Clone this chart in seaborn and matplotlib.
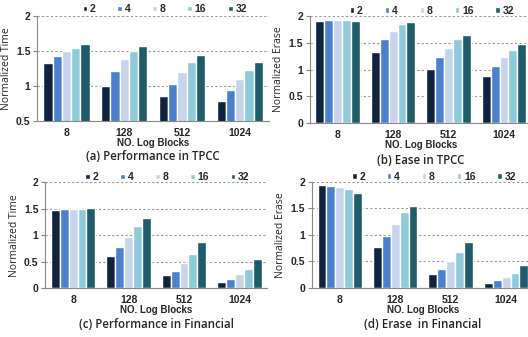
import pandas as pd
import matplotlib.pyplot as plt
import seaborn as sns

blocks = ["8", "128", "512", "1024"]
logs = ["2", "4", "8", "16", "32"]
colors = ["#0e2342", "#4b80cf", "#c6d4eb", "#8fcadb", "#1f5c69"]

# values per log size, one entry per block count
tpcc_time = {
    "2": [1.33, 1.00, 0.85, 0.78],
    "4": [1.42, 1.21, 1.03, 0.94],
    "8": [1.49, 1.38, 1.20, 1.10],
    "16": [1.54, 1.50, 1.34, 1.23],
    "32": [1.59, 1.57, 1.44, 1.34],
}
tpcc_erase = {
    "2": [1.91, 1.32, 1.02, 0.89],
    "4": [1.92, 1.56, 1.23, 1.06],
    "8": [1.92, 1.72, 1.41, 1.23],
    "16": [1.92, 1.84, 1.56, 1.37],
    "32": [1.91, 1.88, 1.65, 1.48],
}
fin_time = {
    "2": [1.48, 0.60, 0.24, 0.12],
    "4": [1.50, 0.78, 0.33, 0.18],
    "8": [1.50, 0.97, 0.47, 0.26],
    "16": [1.50, 1.18, 0.65, 0.36],
    "32": [1.52, 1.33, 0.87, 0.56],
}
fin_erase = {
    "2": [1.95, 0.77, 0.26, 0.10],
    "4": [1.93, 0.97, 0.35, 0.14],
    "8": [1.91, 1.20, 0.50, 0.20],
    "16": [1.87, 1.43, 0.68, 0.28],
    "32": [1.80, 1.55, 0.86, 0.43],
}


def to_long(d):
    rows = []
    for lg in logs:
        for b, v in zip(blocks, d[lg]):
            rows.append({"blocks": b, "log": lg, "value": v})
    return pd.DataFrame(rows)


sns.set_style("white")
plt.rcParams["font.family"] = ["Liberation Sans", "DejaVu Sans"]

fig = plt.figure(figsize=(5.28, 3.37), dpi=100)

panels = [
    (tpcc_time, [0.071, 0.642, 0.438, 0.311], "Normalized Time", (0.5, 2), [0.5, 1, 1.5, 2],
     ["0.5", "1", "1.5", "2"], "(a) Performance in TPCC", 1.065),
    (tpcc_erase, [0.587, 0.634, 0.420, 0.319], "Normalized Erase", (0, 2), [0, 0.5, 1, 1.5, 2],
     ["0", "0.5", "1", "1.5", "2"], "(b) Ease in TPCC", 1.045),
    (fin_time, [0.086, 0.145, 0.420, 0.314], "Normalized Time", (0, 2), [0, 0.5, 1, 1.5, 2],
     ["0", "0.5", "1", "1.5", "2"], "(c) Performance in Financial", 1.05),
    (fin_erase, [0.591, 0.146, 0.420, 0.314], "Normalized Erase", (0, 2), [0, 0.5, 1, 1.5, 2],
     ["0", "0.5", "1", "1.5", "2"], "(d) Erase  in Financial", 1.05),
]

for data, rect, ylab, ylim, yt, ytl, title, leg_y in panels:
    ax = fig.add_axes(rect)
    df = to_long(data)
    sns.barplot(data=df, x="blocks", y="value", hue="log", order=blocks, hue_order=logs,
                palette=colors, width=0.8, saturation=1, ax=ax)
    ax.set_ylim(*ylim)
    ax.set_xlim(-0.5, 3.5)
    ax.set_yticks(yt)
    ax.set_yticklabels(ytl, fontsize=7.5, fontweight="bold")
    ax.set_xticks(range(len(blocks)))
    ax.set_xticklabels(blocks, fontsize=7.5, fontweight="bold")
    ax.set_xticks([-0.5, 0.5, 1.5, 2.5, 3.5], minor=True)
    ax.tick_params(axis="x", which="major", length=0, pad=5)
    ax.tick_params(axis="x", which="minor", length=3, color="#888888", direction="out")
    ax.tick_params(axis="y", length=3, color="#888888", direction="out", pad=2, left=True)
    ax.yaxis.grid(True, linestyle=(0, (2, 2)), color="#999999", linewidth=0.8)
    ax.set_axisbelow(True)
    for s in ["top", "right"]:
        ax.spines[s].set_visible(False)
    for s in ["left", "bottom"]:
        ax.spines[s].set_color("#888888")
        ax.spines[s].set_linewidth(0.8)
    ax.set_ylabel(ylab, fontsize=7.5, labelpad=3, family="Open Sans", fontweight=500)
    ax.set_xlabel("NO. Log Blocks", fontsize=7, fontweight="bold", labelpad=0)
    ax.text(0.5, -0.345, title, transform=ax.transAxes, ha="center", va="center",
            fontsize=8.3, family="Open Sans", fontweight=600)
    ax.legend(loc="center", bbox_to_anchor=(0.55, leg_y), ncol=5, frameon=False,
              prop={"weight": "bold", "size": 7.5},
              handlelength=0.45, handleheight=0.45, handletextpad=0.25,
              columnspacing=2.1, borderaxespad=0, borderpad=0)

fig.savefig("out.png", dpi=100)
